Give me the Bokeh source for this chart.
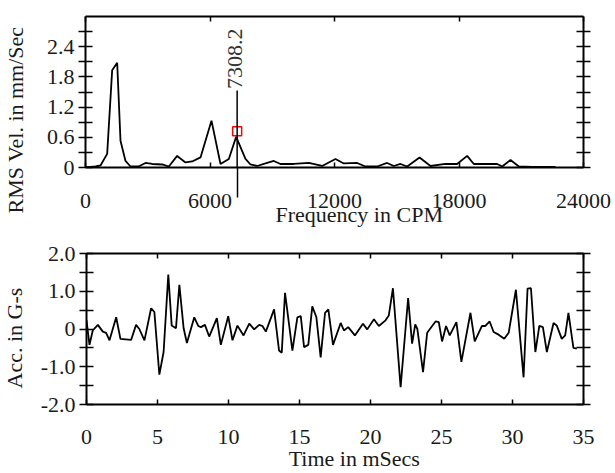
import numpy as np
from bokeh.plotting import figure
from bokeh.models import (Range1d, LinearAxis, FixedTicker, CustomJSTickFormatter,
                          Label, Arrow, Title)
from bokeh.layouts import column, row
from bokeh.embed import file_html
from bokeh.resources import INLINE

# ---------------- data ----------------
freq_cpm = [0, 480, 723, 1044, 1285, 1527, 1687, 1928, 2169, 2555, 2892, 3213, 3700,
            4016, 4418, 4819, 5141, 5542, 6072, 6506, 6907, 7260, 7710, 7950, 8270,
            8674, 9075, 9397, 10039, 10762, 11405, 12047, 12448, 13091, 13493, 14055,
            14537, 14858, 15180, 15501, 16100, 16625, 17348, 17911, 18393, 18714,
            19277, 19840, 20081, 20483, 20884, 21526, 22650]
rms_vel = [0, 0.02, 0.04, 0.27, 1.93, 2.08, 0.53, 0.13, 0.02, 0.02, 0.09, 0.07, 0.06,
           0.02, 0.23, 0.10, 0.12, 0.20, 0.93, 0.07, 0.17, 0.61, 0.17, 0.06, 0.03,
           0.08, 0.13, 0.07, 0.07, 0.09, 0.03, 0.17, 0.08, 0.09, 0.02, 0.02,
           0.09, 0.03, 0.07, 0.02, 0.20, 0.03, 0.07, 0.07, 0.23, 0.07,
           0.07, 0.07, 0.02, 0.15, 0.02, 0.01, 0.01]
marker_freq = 7308.2
marker_vel = 0.72
marker_label = "7308.2"

time_ms = [0, 0.21, 0.44, 0.8, 1.15, 1.38, 1.62, 2.09, 2.39, 3.14,
           3.49, 3.72, 4.08, 4.55, 4.78, 5.13, 5.43, 5.76, 6.0, 6.3,
           6.54, 6.84, 7.07, 7.59, 7.87, 8.06, 8.34, 8.64, 9.18, 9.46,
           9.98, 10.28, 10.63, 11.06, 11.46, 11.81, 12.16, 12.39, 12.63, 13.21,
           13.56, 13.75, 13.98, 14.5, 14.85, 15.09, 15.32, 15.62, 15.9, 16.19,
           16.49, 16.8, 17.03, 17.36, 17.9, 18.13, 18.43, 18.9, 19.47, 19.77,
           20.24, 20.59, 21.06, 21.29, 21.58, 22.12, 22.65, 22.93, 23.15, 23.3,
           23.7, 23.99, 24.58, 24.81, 25.04, 25.32, 25.58, 26.05, 26.4, 27.04,
           27.34, 27.85, 28.09, 28.39, 28.67, 29.02, 29.42, 29.73, 30.24, 30.78,
           31.06, 31.3, 31.61, 31.89, 32.14, 32.42, 32.89, 33.12, 33.47, 33.71,
           33.94, 34.29, 34.53]
acc_g = [0.23, -0.42, -0.04, 0.11, -0.07, -0.1, -0.3, 0.31, -0.26, -0.29,
         0.11, 0.0, -0.3, 0.55, 0.45, -1.21, -0.61, 1.44, 0.09, 0.02,
         1.17, 0.02, -0.37, 0.31, 0.08, 0.05, 0.11, -0.2, 0.29, -0.42,
         0.34, -0.3, 0.09, -0.17, 0.14, -0.01, 0.11, 0.08, -0.07, 0.52,
         -0.57, -0.63, 0.96, -0.57, 0.31, 0.34, -0.48, -0.42, 0.6, 0.31,
         -0.75, 0.43, 0.52, -0.42, 0.16, -0.04, 0.05, -0.17, 0.14, -0.01,
         0.26, 0.08, 0.23, 0.36, 1.08, -1.54, 0.82, -0.39, 0.12, 0.0,
         -1.14, -0.1, 0.2, 0.18, -0.33, 0.08, -0.17, 0.18, -0.87, 0.43,
         -0.33, 0.08, 0.08, 0.2, -0.08, -0.15, -0.26, -0.1, 1.04, -1.28,
         1.07, 1.08, -0.61, 0.08, 0.05, -0.61, 0.16, 0.09, -0.26, -0.17,
         0.43, -0.5, -0.52]

freq_ticks = [0, 6000, 12000, 18000, 24000]
vel_ticks = [0, 0.6, 1.2, 1.8, 2.4]
vel_minor = [0.3, 0.9, 1.5, 2.1, 2.7]
time_ticks = [0, 5, 10, 15, 20, 25, 30, 35]
acc_ticks = [-2, -1, 0, 1, 2]
acc_minor = [-1.5, -0.5, 0.5, 1.5]

freq_title = "Frequency in CPM"
vel_title = "RMS Vel. in mm/Sec"
time_title = "Time in mSecs"
acc_title = "Acc. in G-s"

FONT = "Liberation Serif"
FS = "22px"
TXT = "#1a1a1a"
NB = "\u00a0"  # non-breaking space, nudges the x-axis titles right of centre

TW = 37          # width of the strip holding a y-axis title
W = 615 - TW     # width of each plot
H1, H2 = 235, 238

yfmt_code = "return tick == 0 ? '0' : tick.toFixed(1);"


def make_axis(ticks, minor, labels, tin, tout, title=None, standoff=6,
              title_standoff=10, fmt=None, minor_in=None, minor_out=None):
    ax = LinearAxis(ticker=FixedTicker(ticks=ticks, minor_ticks=minor))
    ax.axis_line_color = "black"
    ax.axis_line_width = 2
    ax.major_tick_line_color = "black"
    ax.major_tick_line_width = 1.5
    ax.minor_tick_line_color = "black"
    ax.minor_tick_line_width = 1.5
    ax.major_tick_in = tin
    ax.major_tick_out = tout
    ax.minor_tick_in = tin if minor_in is None else minor_in
    ax.minor_tick_out = tout if minor_out is None else minor_out
    if labels:
        ax.major_label_text_font = FONT
        ax.major_label_text_font_size = FS
        ax.major_label_text_color = TXT
        ax.major_label_standoff = standoff
        if fmt is not None:
            ax.formatter = fmt
    else:
        ax.major_label_text_font_size = "0px"
        ax.major_label_text_color = None
        ax.major_label_standoff = 0
    if title:
        ax.axis_label = title
        ax.axis_label_text_font = FONT
        ax.axis_label_text_font_size = FS
        ax.axis_label_text_font_style = "normal"
        ax.axis_label_text_color = TXT
        ax.axis_label_standoff = title_standoff
    return ax


def title_strip(text, height, start_below_frame, standoff):
    """A narrow strip (its frame aligns with the plot's) carrying a vertical title."""
    t = figure(width=TW, height=height, x_range=Range1d(0, 1), y_range=Range1d(0, 1),
               output_backend="svg", toolbar_location=None,
               x_axis_type=None, y_axis_type=None,
               min_border_left=0, min_border_right=0, min_border_top=0,
               min_border_bottom=0)
    t.outline_line_color = None
    t.border_fill_color = "white"
    t.background_fill_color = "white"
    t.add_layout(Title(text=text, align="left", vertical_align="middle",
                       offset=-start_below_frame, standoff=standoff,
                       text_font=FONT, text_font_size=FS, text_font_style="normal",
                       text_color=TXT), "left")
    return t


# ---------------- top: spectrum ----------------
p1 = figure(width=W, height=H1, x_range=Range1d(0, 24000), y_range=Range1d(0, 3.0),
            output_backend="svg", toolbar_location=None,
            x_axis_type=None, y_axis_type=None,
            min_border_left=85 - TW, min_border_right=32, min_border_top=16,
            min_border_bottom=68)
p1.outline_line_color = None
p1.background_fill_color = "white"
p1.border_fill_color = "white"

# bottom axis: its single minor tick draws the cursor line's part below the axis
p1.add_layout(make_axis(freq_ticks, [marker_freq], True, 5, 0, NB * 9 + freq_title,
                        standoff=-4, title_standoff=-9, minor_in=0, minor_out=30),
              "below")
p1.add_layout(make_axis(freq_ticks, [], False, 5, 0), "above")
p1.add_layout(make_axis(vel_ticks, vel_minor, True, 7, 7, None, standoff=4,
                        fmt=CustomJSTickFormatter(code=yfmt_code)), "left")
p1.add_layout(make_axis(vel_ticks, vel_minor, False, 7, 7), "right")

p1.line(freq_cpm, rms_vel, line_color="black", line_width=1.8)

p1.add_layout(Arrow(end=None, x_start=marker_freq, y_start=0,
                    x_end=marker_freq, y_end=1.53,
                    line_color="black", line_width=1.5))
p1.scatter([marker_freq], [marker_vel], marker="square", size=9,
           fill_color="white", line_color="red", line_width=1.5)
p1.add_layout(Label(x=marker_freq, y=1.56, text=marker_label, angle=np.pi / 2,
                    text_align="left", text_baseline="middle", x_offset=-2,
                    text_font=FONT, text_font_size=FS, text_color="#333333"))

t1 = title_strip(vel_title, H1, 46, 2)

# ---------------- bottom: time waveform ----------------
p2 = figure(width=W, height=H2, x_range=Range1d(0, 35), y_range=Range1d(-2, 2),
            output_backend="svg", toolbar_location=None,
            x_axis_type=None, y_axis_type=None,
            min_border_left=85 - TW, min_border_right=32, min_border_top=18,
            min_border_bottom=69)
p2.outline_line_color = None
p2.background_fill_color = "white"
p2.border_fill_color = "white"

p2.add_layout(make_axis(time_ticks, [], True, 5, 0, NB * 7 + time_title,
                        standoff=25, title_standoff=-1), "below")
p2.add_layout(make_axis(time_ticks, [], False, 5, 0), "above")
p2.add_layout(make_axis(acc_ticks, acc_minor, True, 7, 7, None, standoff=4,
                        fmt=CustomJSTickFormatter(code=yfmt_code)), "left")
p2.add_layout(make_axis(acc_ticks, acc_minor, False, 7, 7), "right")

p2.line(time_ms, acc_g, line_color="black", line_width=1.8)

t2 = title_strip(acc_title, H2, -16, 0)

layout = column(row(t1, p1, spacing=0), row(t2, p2, spacing=0), spacing=0)

with open("out.html", "w") as f:
    f.write(file_html(layout, INLINE))
